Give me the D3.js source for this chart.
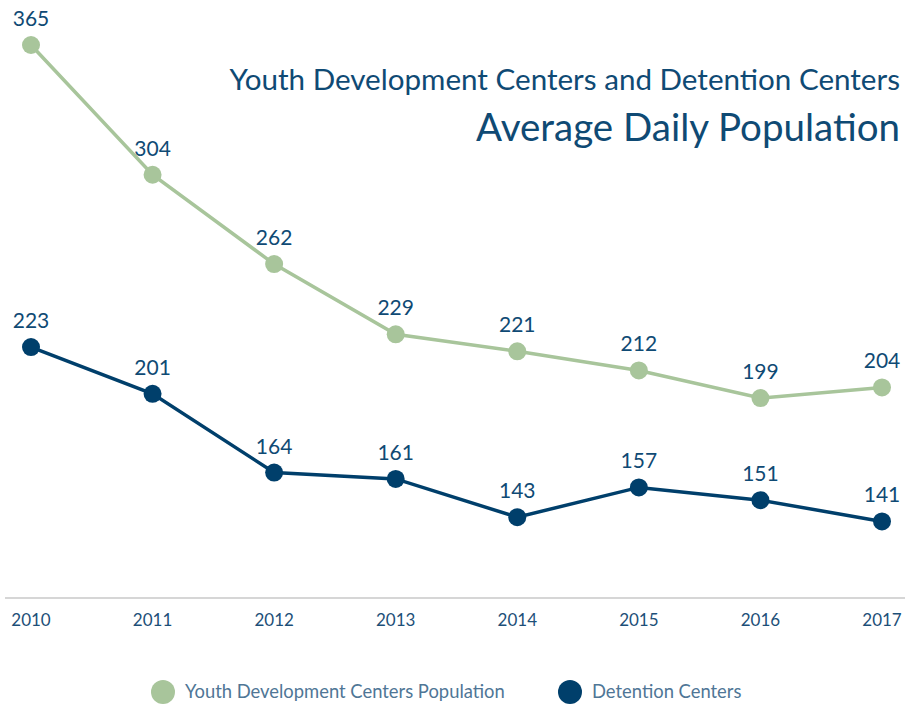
<!DOCTYPE html>
<html>
<head>
<meta charset="utf-8">
<script src="https://cdn.jsdelivr.net/npm/d3@7.9.0/dist/d3.min.js"></script>
<style>
  body { margin: 0; background: #fff; }
  svg { font-family: Lato, "Open Sans", sans-serif; }
</style>
</head>
<body>
<svg id="chart" width="905" height="705"></svg>
<script>
const years = ['2010', '2011', '2012', '2013', '2014', '2015', '2016', '2017'];
const youthDev = [365, 304, 262, 229, 221, 212, 199, 204];
const detention = [223, 201, 164, 161, 143, 157, 151, 141];
const seriesNames = ['Youth Development Centers Population', 'Detention Centers'];
const seriesColors = ['#a8c59b', '#003f6b'];

const svg = d3.select('#chart');

const x = d3.scalePoint().domain(years).range([31, 882]);
const y = d3.scaleLinear().domain([105, 365]).range([598, 45]);

// title
svg.append('text')
  .attr('x', 900).attr('y', 90)
  .attr('text-anchor', 'end')
  .attr('fill', '#0f4a74')
  .style('font-size', '29.6px')
  .text('Youth Development Centers and Detention Centers');
svg.append('text')
  .attr('x', 900).attr('y', 141)
  .attr('text-anchor', 'end')
  .attr('fill', '#0f4a74')
  .style('font-size', '38.5px')
  .text('Average Daily Population');

// x axis
svg.append('line')
  .attr('x1', 5).attr('x2', 905)
  .attr('y1', 598).attr('y2', 598)
  .attr('stroke', '#d6d6d6').attr('stroke-width', 2);

svg.selectAll('.year')
  .data(years)
  .join('text')
  .attr('class', 'year')
  .attr('x', d => x(d))
  .attr('y', 626)
  .attr('text-anchor', 'middle')
  .attr('fill', '#1d4f78')
  .style('font-size', '17px')
  .text(d => d);

const series = [youthDev, detention];
const line = d3.line().x((d, i) => x(years[i])).y(d => y(d));

series.forEach((vals, s) => {
  svg.append('path')
    .datum(vals)
    .attr('d', line)
    .attr('fill', 'none')
    .attr('stroke', seriesColors[s])
    .attr('stroke-width', 3.5);

  svg.selectAll('.pt' + s)
    .data(vals)
    .join('circle')
    .attr('class', 'pt' + s)
    .attr('cx', (d, i) => x(years[i]))
    .attr('cy', d => y(d))
    .attr('r', 9)
    .attr('fill', seriesColors[s]);

  svg.selectAll('.lbl' + s)
    .data(vals)
    .join('text')
    .attr('class', 'lbl' + s)
    .attr('x', (d, i) => x(years[i]))
    .attr('y', d => y(d) - 19)
    .attr('text-anchor', 'middle')
    .attr('fill', '#0f4a74')
    .style('font-size', '21px')
    .text(d => d);
});

// legend
const legendX = [163, 570];
seriesNames.forEach((name, s) => {
  svg.append('circle')
    .attr('cx', legendX[s]).attr('cy', 692)
    .attr('r', 12)
    .attr('fill', seriesColors[s]);
  svg.append('text')
    .attr('x', legendX[s] + 22).attr('y', 698)
    .attr('fill', '#4f7696')
    .style('font-size', '18.4px')
    .text(name);
});
</script>
</body>
</html>
